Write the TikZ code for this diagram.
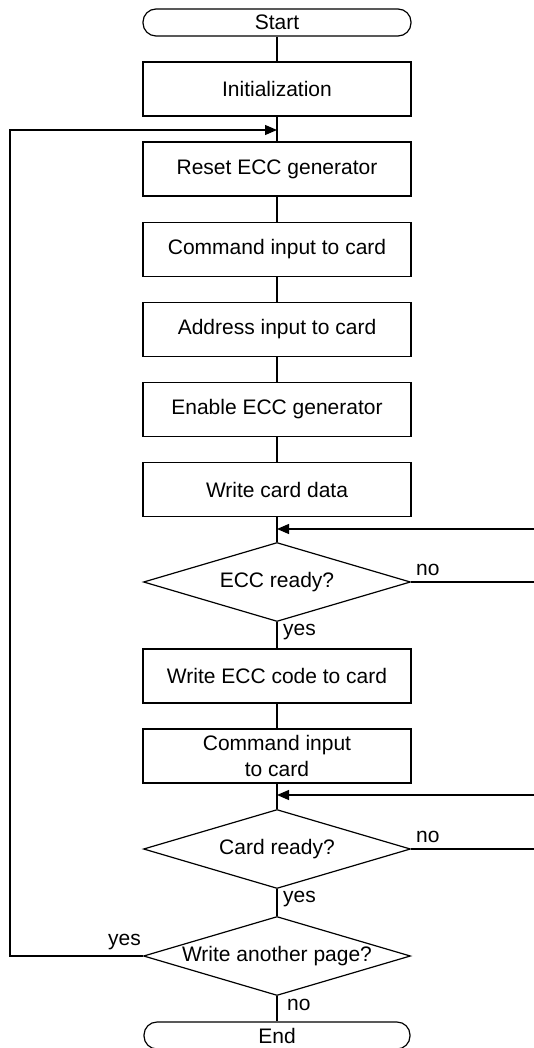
\documentclass[tikz,border=0pt]{standalone}
\usepackage{fontspec}
\setmainfont{Liberation Sans}
\usetikzlibrary{shapes.geometric,arrows.meta}

\tikzset{
  txt/.style={font=\fontsize{21}{26}\selectfont},
  box/.style={draw,txt,line width=1.2pt,minimum width=268pt,minimum height=54pt,inner sep=0pt,align=center},
  term/.style={box,minimum height=27pt,rounded corners=13pt},
  decide/.style={draw,txt,diamond,line width=1.2pt,aspect=3.38,minimum width=267pt,minimum height=79pt,inner sep=0pt},
  lbl/.style={txt,inner sep=1pt},
  flow/.style={line width=1.2pt},
  back/.style={flow,-{Triangle[length=12pt,width=10pt]}}
}

\begin{document}
\begin{tikzpicture}[x=1pt,y=-1pt,line join=miter]

\def\cx{277}
\def\edgeR{534}
\def\edgeL{10}

\useasboundingbox (0,0) rectangle (534,1048);

% 方框
\node[term] (start) at (\cx,22.5) {Start};
\node[box] (init) at (\cx,89) {Initialization};
\node[box] (reset) at (\cx,169) {Reset ECC generator};
\node[box] (cmdA) at (\cx,249.5) {Command input to card};
\node[box] (addr) at (\cx,329.5) {Address input to card};
\node[box] (enable) at (\cx,409.5) {Enable ECC generator};
\node[box] (wdata) at (\cx,489.5) {Write card data};
\node[decide] (eccrdy) at (\cx,582) {ECC ready?};
\node[box] (wecc) at (\cx,676) {Write ECC code to card};
\node[box] (cmdB) at (\cx,756) {Command input\\to card};
\node[decide] (cardrdy) at (\cx,849) {Card ready?};
\node[decide] (again) at (\cx,956) {Write another page?};
\node[term,minimum width=266pt] (stop) at (\cx,1035.5) {End};

% 汇合点
\coordinate (joinTop) at (\cx,130);
\coordinate (joinEcc) at (\cx,529);
\coordinate (joinCard) at (\cx,795);
\coordinate (inEcc) at (\edgeR,529);
\coordinate (inCard) at (\edgeR,795);
\coordinate (outEcc) at (\edgeR,582);
\coordinate (outCard) at (\edgeR,849);

% 主线
\draw[flow] (start) -- (init);
\draw[flow] (init) -- (reset);
\draw[flow] (reset) -- (cmdA);
\draw[flow] (cmdA) -- (addr);
\draw[flow] (addr) -- (enable);
\draw[flow] (enable) -- (wdata);
\draw[flow] (wdata) -- (eccrdy);
\draw[flow] (eccrdy) -- (wecc);
\draw[flow] (wecc) -- (cmdB);
\draw[flow] (cmdB) -- (cardrdy);
\draw[flow] (cardrdy) -- (again);
\draw[flow] (again) -- (stop);

% 回路
\draw[back] (again.west) -- (\edgeL,956) |- (joinTop);
\draw[flow] (eccrdy.east) -- (outEcc);
\draw[back] (inEcc) -- (joinEcc);
\draw[flow] (cardrdy.east) -- (outCard);
\draw[back] (inCard) -- (joinCard);

% 标注
\node[lbl,anchor=north west] (yesEcc) at (282,623) {yes};
\node[lbl,anchor=south west] (noEcc) at (415,577) {no};
\node[lbl,anchor=north west] (yesCard) at (282,890) {yes};
\node[lbl,anchor=south west] (noCard) at (415,844) {no};
\node[lbl,anchor=south east] (yesAgain) at (142,951) {yes};
\node[lbl,anchor=north west] (noAgain) at (286,998) {no};

\end{tikzpicture}
\end{document}
